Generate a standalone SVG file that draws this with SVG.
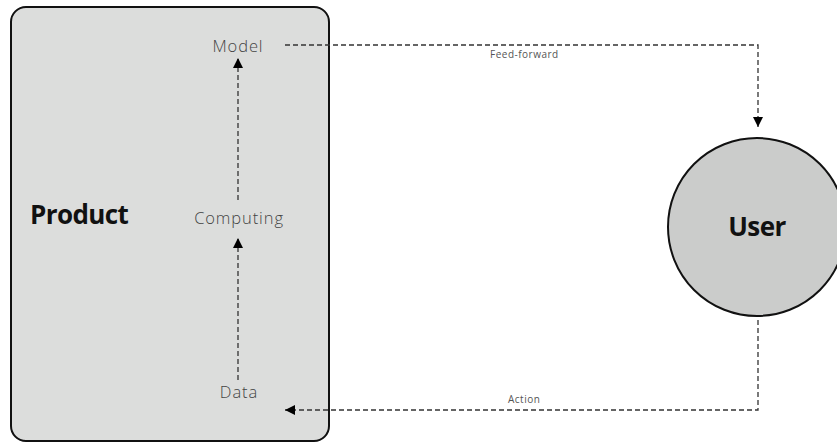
<svg xmlns="http://www.w3.org/2000/svg" width="837" height="443" viewBox="0 0 837 443">
<defs>
<marker id="ah" viewBox="0 0 10 10" refX="10" refY="5" markerWidth="10" markerHeight="10" markerUnits="userSpaceOnUse" orient="auto">
<path d="M0,0 L10,5 L0,10 z" fill="#000"/>
</marker>
</defs>
<style>
.lbl{font-family:"Open Sans","Liberation Sans",sans-serif;fill:#444;font-weight:300;font-size:16.5px;letter-spacing:0.9px}
.big{font-family:"Open Sans","Liberation Sans",sans-serif;fill:#111;font-weight:700;font-size:26px;letter-spacing:-0.6px}
.small{font-family:"Open Sans","Liberation Sans",sans-serif;fill:#555;font-size:10px;letter-spacing:0.5px}
.conn{fill:none;stroke:#333;stroke-width:1.3;stroke-dasharray:5,3}
</style>
<rect width="837" height="443" fill="#fff"/>
<g id="product">
<rect x="11" y="7" width="318" height="434" rx="15" fill="#dcdddc" stroke="#111" stroke-width="2"/>
<text class="big" x="30" y="224">Product</text>
</g>
<g id="model"><text class="lbl" x="238" y="52" text-anchor="middle">Model</text></g>
<g id="computing"><text class="lbl" x="239" y="224" text-anchor="middle">Computing</text></g>
<g id="data"><text class="lbl" x="239" y="398" text-anchor="middle">Data</text></g>
<g id="user">
<circle cx="757" cy="227" r="89" fill="#cbcccb" stroke="#111" stroke-width="2"/>
<text class="big" x="757" y="236" text-anchor="middle">User</text>
</g>
<g id="connectors">
<path class="conn" d="M238,380 V238" marker-end="url(#ah)"/>
<path class="conn" d="M238,200 V58" marker-end="url(#ah)"/>
<path class="conn" d="M285,45 H758 V127" marker-end="url(#ah)"/>
<path class="conn" d="M758,320 V410 H285" marker-end="url(#ah)"/>
<text class="small" x="490" y="58">Feed-forward</text>
<text class="small" x="508" y="403">Action</text>
</g>
</svg>
